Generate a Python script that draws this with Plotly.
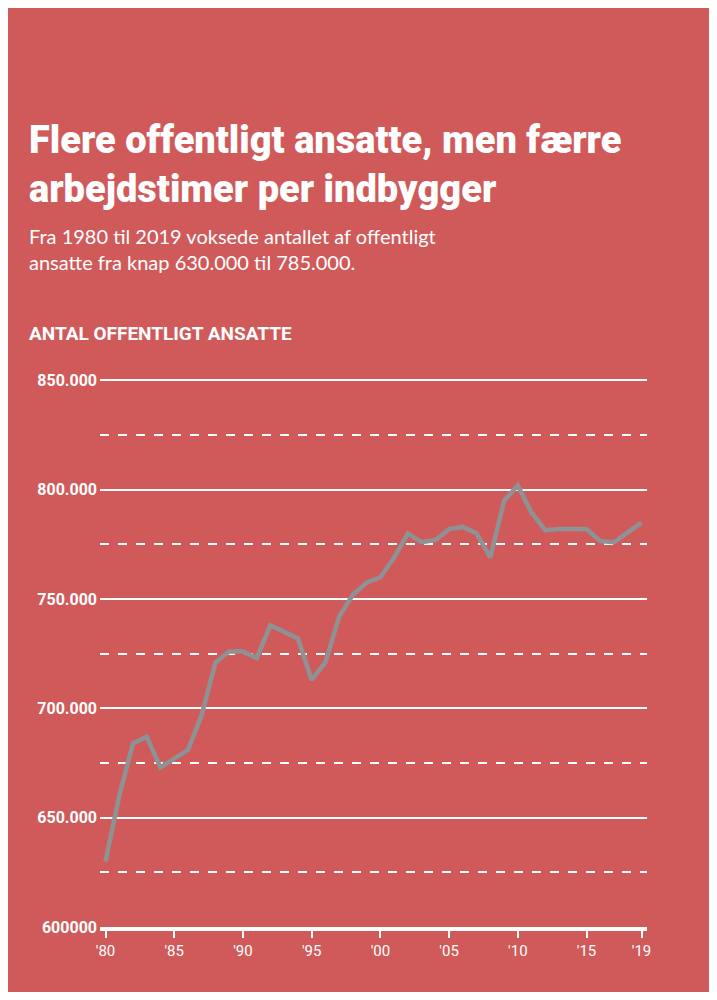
import plotly.graph_objects as go

years = list(range(1980, 2020))
ansatte = [630000, 660000, 684000, 687000, 673000, 677000, 681000, 697000, 721000, 726000,
           726000, 723000, 738000, 735000, 732000, 713000, 721000, 742000, 752000, 757500,
           760000, 769000, 780000, 776000, 777000, 782000, 783000, 780000, 769000, 795000,
           802000, 789500, 781500, 782000, 782000, 782000, 776500, 776000, 780500, 785000]

y_ticks = [600000, 650000, 700000, 750000, 800000, 850000]
y_labels = ["600000", "650.000", "700.000", "750.000", "800.000", "850.000"]
x_ticks = [1980, 1985, 1990, 1995, 2000, 2005, 2010, 2015, 2019]
x_labels = ["'80", "'85", "'90", "'95", "'00", "'05", "'10", "'15", "'19"]

bg = "#d05a5a"
W, H = 701, 984
# page has an 8px body margin, so pixel positions are shifted by -8
L, R, T, B = 92, 62, 367, 65
ph = H - T - B
pw = W - L - R

def py(pix):
    return (H - B - (pix - 8)) / ph

px0 = (27 - 8 - L) / pw

fig = go.Figure()
fig.add_trace(go.Scatter(x=years, y=ansatte, mode="lines",
                         line=dict(color="#8e9295", width=4.5), hoverinfo="skip"))

fig.update_layout(
    width=W, height=H,
    margin=dict(l=L, r=R, t=T, b=B),
    paper_bgcolor=bg, plot_bgcolor=bg,
    showlegend=False,
    font=dict(family="Roboto", color="white"),
    xaxis=dict(range=[1979.6, 2019.4], tickvals=x_ticks, ticktext=x_labels,
               showgrid=False, zeroline=False,
               showline=True, linecolor="white", linewidth=4,
               ticks="outside", tickcolor="white", ticklen=7, tickwidth=2,
               tickfont=dict(family="Roboto", size=15, color="white")),
    yaxis=dict(range=[600000, 852500], tickvals=y_ticks, ticktext=y_labels,
               showgrid=True, gridcolor="white", gridwidth=1.5, zeroline=False,
               ticks="", ticklabelstandoff=2,
               tickfont=dict(family="Roboto", size=16, color="white", weight="bold"),
               minor=dict(dtick=25000, showgrid=True, gridcolor="white",
                          gridwidth=1.5, griddash="dash")),
    annotations=[
        dict(text="Flere offentligt ansatte, men færre<br>arbejdstimer per indbygger",
             xref="paper", yref="paper", x=px0, y=py(116), xanchor="left", yanchor="top",
             align="left", showarrow=False,
             font=dict(family="Roboto", size=38, color="white", weight=900)),
        dict(text="Fra 1980 til 2019 voksede antallet af offentligt<br>ansatte fra knap 630.000 til 785.000.",
             xref="paper", yref="paper", x=px0, y=py(222), xanchor="left", yanchor="top",
             align="left", showarrow=False,
             font=dict(family="Lato", size=20, color="white")),
        dict(text="<b>ANTAL OFFENTLIGT ANSATTE</b>",
             xref="paper", yref="paper", x=px0, y=py(333), xanchor="left", yanchor="middle",
             align="left", showarrow=False,
             font=dict(family="Roboto", size=19, color="white")),
    ],
)

fig.write_html("out.html")
